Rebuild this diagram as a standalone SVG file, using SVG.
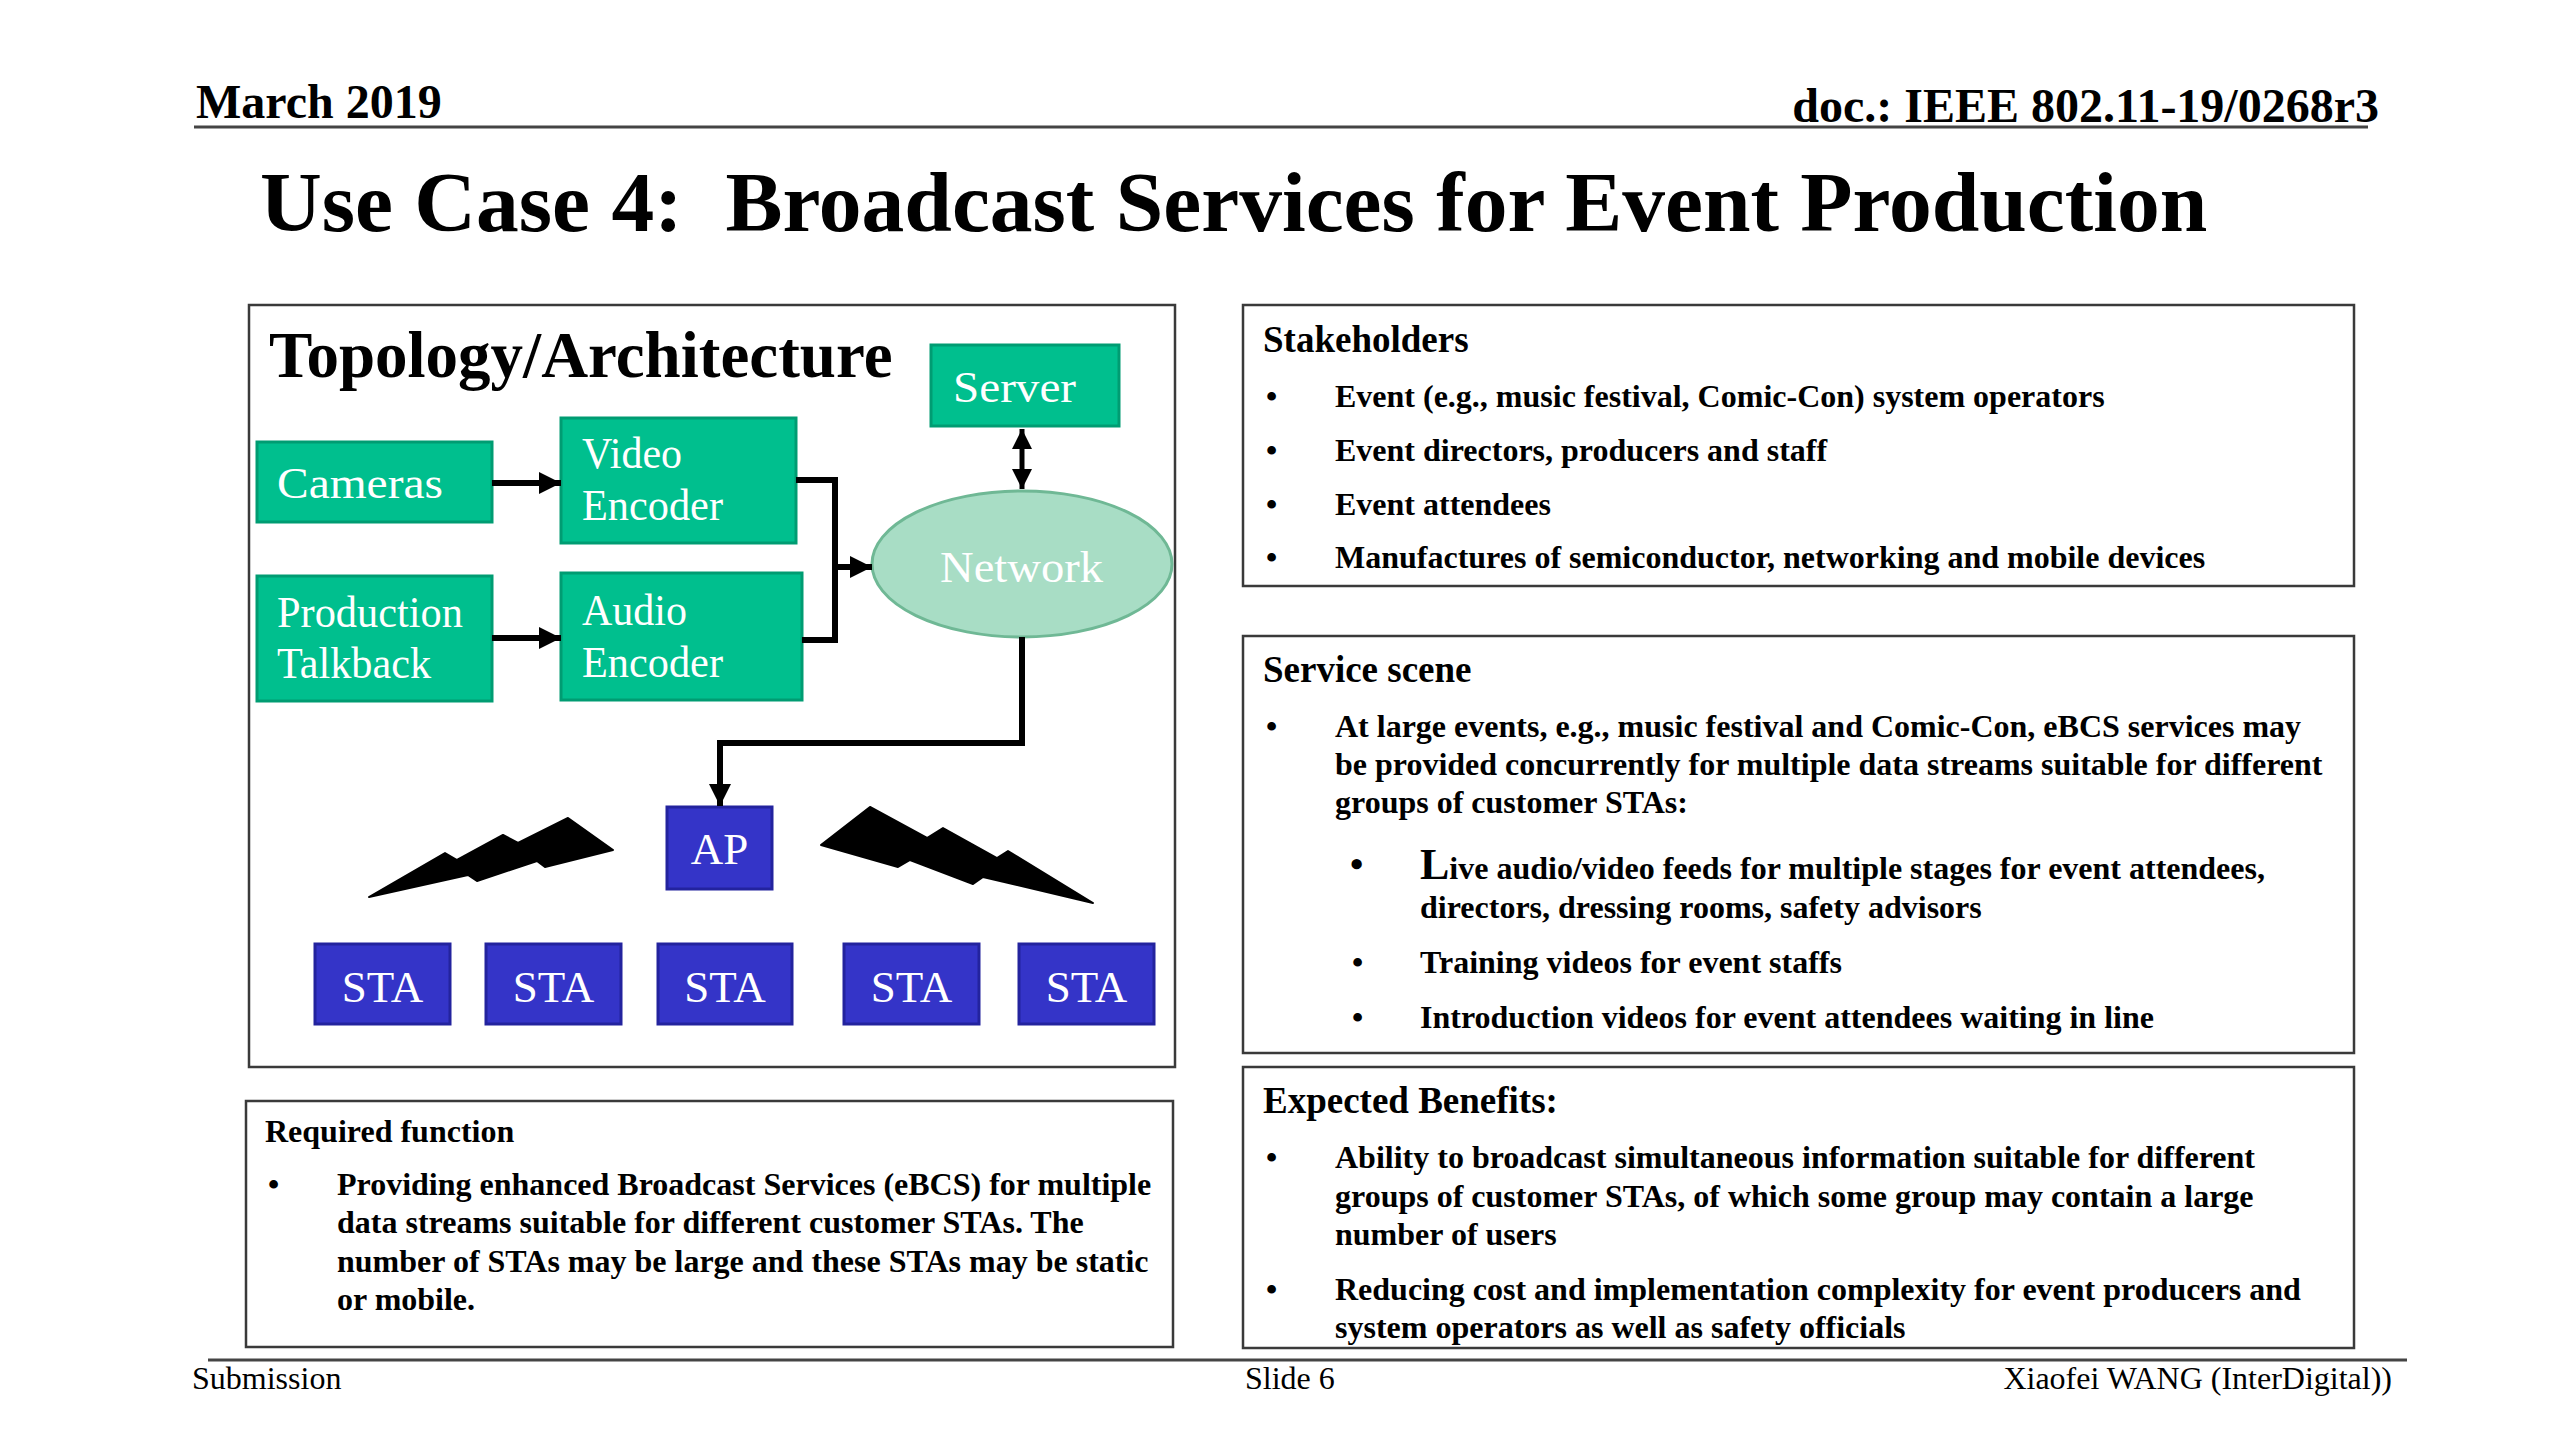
<svg xmlns="http://www.w3.org/2000/svg" width="2560" height="1440" viewBox="0 0 2560 1440">
<defs>
<style>
text{font-family:"Liberation Serif","Times New Roman",serif;}
.hdr{font-size:48px;font-weight:bold;fill:#000;}
.title{font-size:85.5px;font-weight:bold;fill:#000;}
.ftr{font-size:32px;fill:#000;}
.panel{fill:#fff;stroke:#3a3a3a;stroke-width:2.5;}
.green{fill:#00BF8E;stroke:#009C72;stroke-width:3;}
.blue{fill:#3434C8;stroke:#23239E;stroke-width:3;}
.wt{fill:#fff;font-size:45px;}
.h{font-size:37px;font-weight:bold;fill:#000;}
.t{font-size:32px;font-weight:bold;fill:#000;}
.conn{fill:none;stroke:#000;stroke-width:6;}
.thin{fill:none;stroke:#000;stroke-width:5;}
</style>
<marker id="ah" viewBox="0 0 10 10" refX="10" refY="5" markerUnits="userSpaceOnUse" markerWidth="24" markerHeight="22" orient="auto">
<path d="M0,0 L10,5 L0,10 z" fill="#000"/>
</marker>
<marker id="ahs" viewBox="0 0 10 10" refX="10" refY="5" markerUnits="userSpaceOnUse" markerWidth="20" markerHeight="20" orient="auto-start-reverse">
<path d="M0,0 L10,5 L0,10 z" fill="#000"/>
</marker>
</defs>
<rect width="2560" height="1440" fill="#fff"/>

<!-- header -->
<text class="hdr" x="196" y="118">March 2019</text>
<text class="hdr" x="2379" y="122" text-anchor="end">doc.: IEEE 802.11-19/0268r3</text>
<line x1="194" y1="127" x2="2368" y2="127" stroke="#444" stroke-width="3"/>
<text class="title" x="260" y="231" xml:space="preserve">Use Case 4:  Broadcast Services for Event Production</text>

<!-- topology panel -->
<g id="topology-panel">
<rect class="panel" x="249" y="305" width="926" height="762"/>
<text x="269" y="377" style="font-size:65px;font-weight:bold;">Topology/Architecture</text>
</g>

<g id="server">
<rect class="green" x="931" y="345" width="188" height="81"/>
<text class="wt" x="953" y="402" textLength="123" lengthAdjust="spacingAndGlyphs">Server</text>
</g>
<g id="cameras">
<rect class="green" x="257" y="442" width="235" height="80"/>
<text class="wt" x="277" y="498" textLength="166" lengthAdjust="spacingAndGlyphs">Cameras</text>
</g>
<g id="video-encoder">
<rect class="green" x="561" y="418" width="235" height="125"/>
<text class="wt" x="582" y="468" textLength="100" lengthAdjust="spacingAndGlyphs">Video</text>
<text class="wt" x="582" y="520" textLength="141" lengthAdjust="spacingAndGlyphs">Encoder</text>
</g>
<g id="production-talkback">
<rect class="green" x="257" y="576" width="235" height="125"/>
<text class="wt" x="277" y="627" textLength="186" lengthAdjust="spacingAndGlyphs">Production</text>
<text class="wt" x="277" y="678" textLength="154" lengthAdjust="spacingAndGlyphs">Talkback</text>
</g>
<g id="audio-encoder">
<rect class="green" x="561" y="573" width="241" height="127"/>
<text class="wt" x="582" y="625" textLength="105" lengthAdjust="spacingAndGlyphs">Audio</text>
<text class="wt" x="582" y="677" textLength="141" lengthAdjust="spacingAndGlyphs">Encoder</text>
</g>
<g id="network">
<ellipse cx="1022" cy="564" rx="150" ry="73" fill="#A8DDC5" stroke="#6FB895" stroke-width="3"/>
<text class="wt" x="940" y="582" fill="#F2FFF9" textLength="163" lengthAdjust="spacingAndGlyphs">Network</text>
</g>
<g id="ap">
<rect class="blue" x="667" y="807" width="105" height="82"/>
<text class="wt" x="719.5" y="864" text-anchor="middle">AP</text>
</g>
<g id="sta1"><rect class="blue" x="315" y="944" width="135" height="80"/><text class="wt" x="382.5" y="1002" text-anchor="middle">STA</text></g>
<g id="sta2"><rect class="blue" x="486" y="944" width="135" height="80"/><text class="wt" x="553.5" y="1002" text-anchor="middle">STA</text></g>
<g id="sta3"><rect class="blue" x="658" y="944" width="134" height="80"/><text class="wt" x="725" y="1002" text-anchor="middle">STA</text></g>
<g id="sta4"><rect class="blue" x="844" y="944" width="135" height="80"/><text class="wt" x="911.5" y="1002" text-anchor="middle">STA</text></g>
<g id="sta5"><rect class="blue" x="1019" y="944" width="135" height="80"/><text class="wt" x="1086.5" y="1002" text-anchor="middle">STA</text></g>

<g id="bolts" fill="#000" stroke="#000" stroke-width="2" stroke-linejoin="round">
<polygon points="369,897 445,853 457,860 503,835 518,843 568,818 613,850 545,867 537,861 477,881 468,875"/>
<polygon points="821,845 870,807 927,838 943,828 997,858 1008,851 1093,903 983,877 973,884 910,860 898,867"/>
</g>

<g id="connectors">
<path class="conn" d="M492,483 H561" marker-end="url(#ah)"/>
<path class="conn" d="M492,638 H561" marker-end="url(#ah)"/>
<path class="conn" d="M796,480 H835 V640 H802"/>
<path class="conn" d="M832,567 H872" marker-end="url(#ah)"/>
<path class="thin" d="M1022,429 V489" marker-start="url(#ahs)" marker-end="url(#ahs)"/>
<path class="conn" d="M1022,637 V743 H720 V806" marker-end="url(#ah)"/>
</g>

<!-- required function -->
<g id="required-function">
<rect class="panel" x="246" y="1101" width="927" height="246"/>
<text class="t" x="265" y="1142">Required function</text>
<text class="t" x="268" y="1195">•</text>
<text class="t" x="337" y="1195">Providing enhanced Broadcast Services (eBCS) for multiple</text>
<text class="t" x="337" y="1233">data streams suitable for different customer STAs. The</text>
<text class="t" x="337" y="1272">number of STAs may be large and these STAs may be static</text>
<text class="t" x="337" y="1310">or mobile.</text>
</g>

<!-- stakeholders -->
<g id="stakeholders">
<rect class="panel" x="1243" y="305" width="1111" height="281"/>
<text class="h" x="1263" y="352">Stakeholders</text>
<text class="t" x="1266" y="407">•</text><text class="t" x="1335" y="407">Event (e.g., music festival, Comic-Con) system operators</text>
<text class="t" x="1266" y="461">•</text><text class="t" x="1335" y="461">Event directors, producers and staff</text>
<text class="t" x="1266" y="515">•</text><text class="t" x="1335" y="515">Event attendees</text>
<text class="t" x="1266" y="568">•</text><text class="t" x="1335" y="568">Manufactures of semiconductor, networking and mobile devices</text>
</g>

<!-- service scene -->
<g id="service-scene">
<rect class="panel" x="1243" y="636" width="1111" height="417"/>
<text class="h" x="1263" y="682">Service scene</text>
<text class="t" x="1266" y="737">•</text>
<text class="t" x="1335" y="737">At large events, e.g., music festival and Comic-Con, eBCS services may</text>
<text class="t" x="1335" y="775">be provided concurrently for multiple data streams suitable for different</text>
<text class="t" x="1335" y="813">groups of customer STAs:</text>
<text class="t" x="1350" y="877" style="font-size:38px">•</text>
<text class="t" x="1420" y="879"><tspan style="font-size:44px">L</tspan>ive audio/video feeds for multiple stages for event attendees,</text>
<text class="t" x="1420" y="918">directors, dressing rooms, safety advisors</text>
<text class="t" x="1352" y="973">•</text><text class="t" x="1420" y="973">Training videos for event staffs</text>
<text class="t" x="1352" y="1028">•</text><text class="t" x="1420" y="1028">Introduction videos for event attendees waiting in line</text>
</g>

<!-- expected benefits -->
<g id="expected-benefits">
<rect class="panel" x="1243" y="1067" width="1111" height="281"/>
<text class="h" x="1263" y="1113">Expected Benefits:</text>
<text class="t" x="1266" y="1168">•</text>
<text class="t" x="1335" y="1168">Ability to broadcast simultaneous information suitable for different</text>
<text class="t" x="1335" y="1207">groups of customer STAs, of which some group may contain a large</text>
<text class="t" x="1335" y="1245">number of users</text>
<text class="t" x="1266" y="1300">•</text>
<text class="t" x="1335" y="1300">Reducing cost and implementation complexity for event producers and</text>
<text class="t" x="1335" y="1338">system operators as well as safety officials</text>
</g>

<!-- footer -->
<line x1="208" y1="1360" x2="2407" y2="1360" stroke="#444" stroke-width="3"/>
<text class="ftr" x="192" y="1389">Submission</text>
<text class="ftr" x="1245" y="1389">Slide 6</text>
<text class="ftr" x="2392" y="1389" text-anchor="end">Xiaofei WANG (InterDigital))</text>
</svg>
